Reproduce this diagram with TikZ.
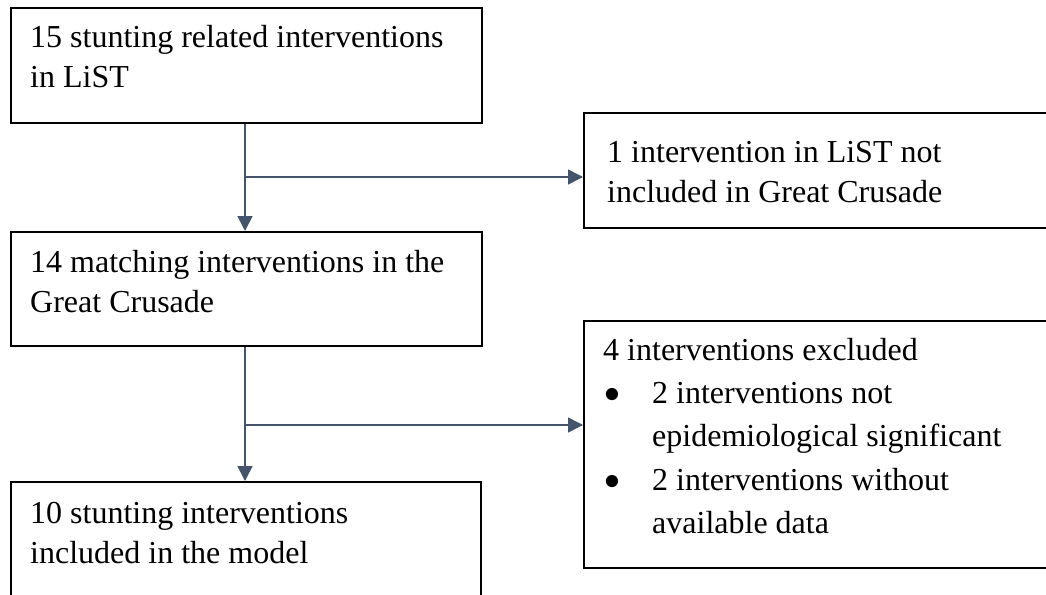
\documentclass[tikz,border=0pt]{standalone}
\usepackage{fontspec}
\usepackage{graphicx}
\setmainfont{Liberation Serif}
\usetikzlibrary{arrows.meta}
\definecolor{arrowblue}{HTML}{44546A}
\newcommand{\bigbul}{\makebox[49pt][l]{\hspace*{0pt}\raisebox{-8pt}{\scalebox{1.6}{\textbullet}}}}
\begin{document}
\begin{tikzpicture}[x=1pt,y=-1pt,
  box/.style={draw=black, line width=1.6pt, inner sep=0pt, anchor=north west},
  txt/.style={anchor=north west, inner sep=0pt, align=left, font=\fontsize{32}{40}\selectfont},
  flow/.style={draw=arrowblue, line width=1.6pt, -{Triangle[length=15pt,width=15pt]}}]
\clip (0,0) rectangle (1046,594);
\fill[white] (0,0) rectangle (1046,594);
% boxes
\node[box, minimum width=471pt, minimum height=115pt] (b1) at (10,7) {};
\node[box, minimum width=480pt, minimum height=115pt] (b2) at (583,112) {};
\node[box, minimum width=471pt, minimum height=114pt] (b3) at (10,231) {};
\node[box, minimum width=480pt, minimum height=247pt] (b4) at (583,320) {};
\node[box, minimum width=470pt, minimum height=140pt] (b5) at (10,481) {};
% texts
\node[txt] (t1) at (30,17) {\rule{0pt}{30pt}15 stunting related interventions\\in LiST};
\node[txt] (t2) at (607,132) {\rule{0pt}{30pt}1 intervention in LiST not\\included in Great Crusade};
\node[txt] (t3) at (30,242) {\rule{0pt}{30pt}14 matching interventions in the\\Great Crusade};
\node[txt, font=\fontsize{32}{43.3}\selectfont] (t4) at (603,330) {\rule{0pt}{30pt}4 interventions excluded\\
\bigbul 2 interventions not\\
\hspace*{49pt}epidemiological significant\\
\bigbul 2 interventions without\\
\hspace*{49pt}available data};
\node[txt] (t5) at (30,493) {\rule{0pt}{30pt}10 stunting interventions\\included in the model};
% connectors
\coordinate (j1) at (245,177);
\coordinate (j2) at (245,425);
\draw[flow] ([xshift=235pt]b1.south west) -- ([xshift=235pt]b3.north west);
\draw[flow] (j1) -- (j1 -| b2.west);
\draw[flow] ([xshift=235pt]b3.south west) -- ([xshift=235pt]b5.north west);
\draw[flow] (j2) -- (j2 -| b4.west);
\end{tikzpicture}
\end{document}
